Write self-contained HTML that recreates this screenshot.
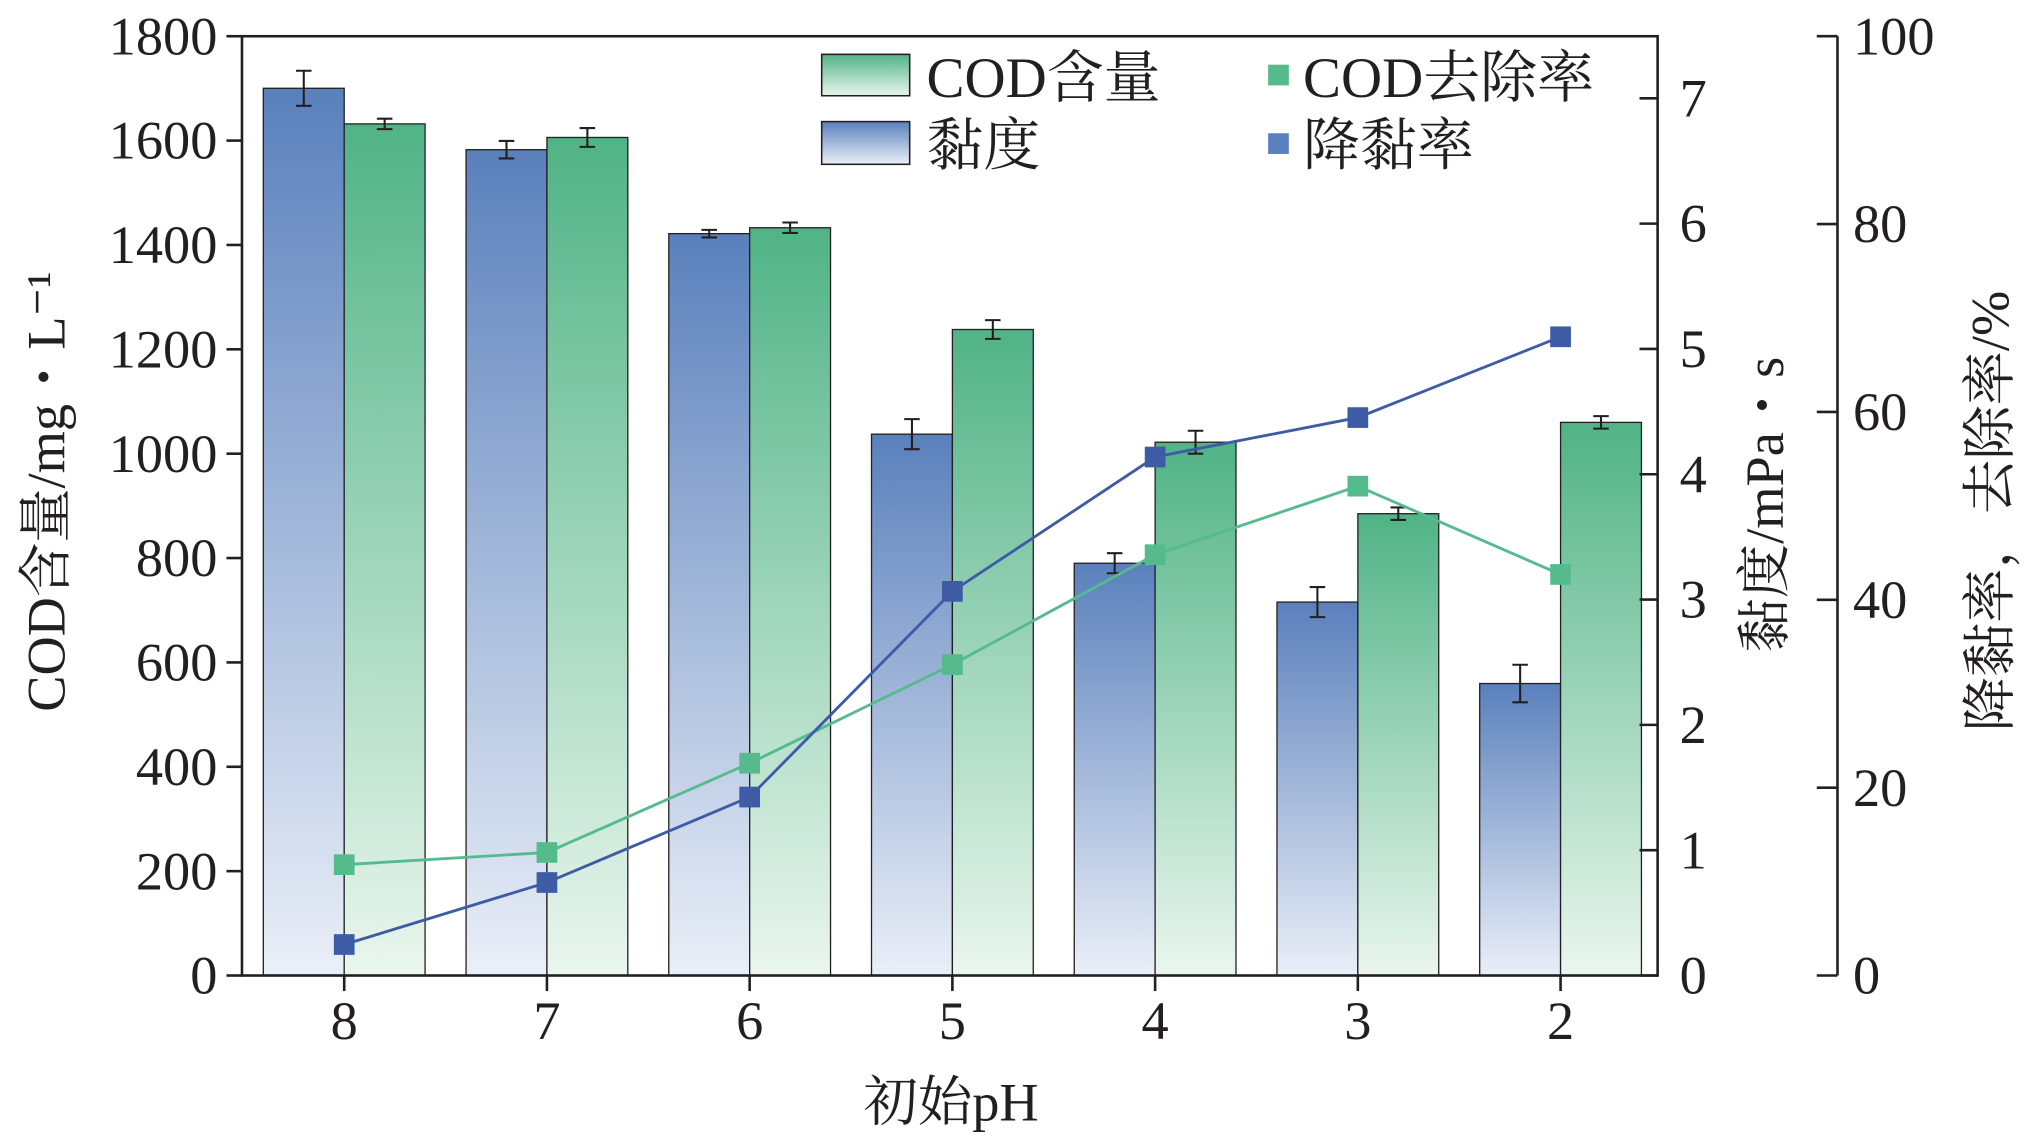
<!DOCTYPE html>
<html><head><meta charset="utf-8"><style>
html,body{margin:0;padding:0;background:#fff;}
svg{display:block;}
text{font-family:"Liberation Serif","Noto Serif CJK SC","Noto Sans CJK SC",serif;fill:#231f20;}
</style></head><body>
<svg id="chart" width="2029" height="1145" viewBox="0 0 1568 885" preserveAspectRatio="none" xmlns="http://www.w3.org/2000/svg">
<defs>
<linearGradient id="gb" x1="0" y1="0" x2="0" y2="1"><stop offset="0" stop-color="#5a80bc"/><stop offset="1" stop-color="#eaeff8"/></linearGradient>
<linearGradient id="gg" x1="0" y1="0" x2="0" y2="1"><stop offset="0" stop-color="#50b386"/><stop offset="1" stop-color="#eaf6ee"/></linearGradient>
</defs>
<g id="bars"></g><g id="lines"></g><g id="axes"></g>
</svg>
<script>
const categories=["8","7","6","5","4","3","2"];
const viscosity=[7.08,6.59,5.92,4.32,3.29,2.98,2.33];
const viscosityErr=[0.14,0.07,0.03,0.12,0.08,0.12,0.15];
const cod=[1698-66,1606,1433,1238,1022,885,1060];
const codErr=[10,18,10,18,22,12,12];
const removalRate=[11.8,13.1,22.6,33.1,44.8,52.1,42.7];
const reductionRate=[3.3,9.9,19.0,40.9,55.2,59.4,68.0];
const leftTicks=[0,200,400,600,800,1000,1200,1400,1600,1800];
const midTicks=[0,1,2,3,4,5,6,7];
const rightTicks=[0,20,40,60,80,100];

const NS="http://www.w3.org/2000/svg";
const L=187,R=1281,T=28,B=754;
const xC=i=>266+i*(1206-266)/6;
const yL=v=>B-v*(B-T)/1800;
const yM=v=>B-v*96.86;
const yR=v=>B-v*(B-T)/100;
function mk(tag,attrs,parent,txt){const e=document.createElementNS(NS,tag);for(const k in attrs)e.setAttribute(k,attrs[k]);if(txt!==undefined)e.textContent=txt;parent.appendChild(e);return e;}
const gBars=document.getElementById('bars'),gLines=document.getElementById('lines'),gAx=document.getElementById('axes');
const bw=62.5;
function errbar(x,yt,yb,p){mk('path',{d:`M${x} ${yt}V${yb}M${x-6} ${yt}H${x+6}M${x-6} ${yb}H${x+6}`,stroke:'#231f20','stroke-width':1.6,fill:'none'},p);}
categories.forEach((c,i)=>{
 const x=xC(i);
 let r=mk('rect',{x:x-bw,y:yM(viscosity[i]),width:bw,height:B-yM(viscosity[i]),fill:'url(#gb)',stroke:'#231f20','stroke-width':1},gBars);
 
 
 errbar(x-bw/2,yM(viscosity[i]+viscosityErr[i]),yM(viscosity[i]-viscosityErr[i]),gBars);
 let g=mk('rect',{x:x,y:yL(cod[i]),width:bw,height:B-yL(cod[i]),fill:'url(#gg)',stroke:'#231f20','stroke-width':1},gBars);
 
 
 errbar(x+bw/2,yL(cod[i]+codErr[i]),yL(cod[i]-codErr[i]),gBars);
});
function series(vals,color,name){
 const pl=mk('polyline',{points:vals.map((v,i)=>xC(i)+','+yR(v)).join(' '),fill:'none',stroke:color,'stroke-width':2.2},gLines);
 
 
 vals.forEach((v,i)=>{const m=mk('rect',{x:xC(i)-8,y:yR(v)-8,width:16,height:16,fill:color},gLines);
 
 });
}
series(removalRate,'#55bb8c','removal-rate');
series(reductionRate,'#3e5ba6','reduction-rate');
// axes
const ax='#231f20';
mk('rect',{x:L,y:T,width:R-L,height:B-T,fill:'none',stroke:ax,'stroke-width':2},gAx);
leftTicks.forEach(v=>{mk('line',{x1:L,x2:L-12,y1:yL(v),y2:yL(v),stroke:ax,'stroke-width':2},gAx);
 mk('text',{x:168,y:yL(v)+14,'text-anchor':'end','font-size':42},gAx,v);});
midTicks.forEach(v=>{mk('line',{x1:R,x2:R-14,y1:yM(v),y2:yM(v),stroke:ax,'stroke-width':2},gAx);
 mk('text',{x:1298,y:yM(v)+14,'font-size':42},gAx,v);});
mk('line',{x1:1420,x2:1420,y1:T,y2:B,stroke:ax,'stroke-width':2},gAx);
rightTicks.forEach(v=>{mk('line',{x1:1420,x2:1404,y1:yR(v),y2:yR(v),stroke:ax,'stroke-width':2},gAx);
 mk('text',{x:1432,y:yR(v)+14,'font-size':42},gAx,v);});
categories.forEach((c,i)=>{mk('line',{x1:xC(i),x2:xC(i),y1:B,y2:B+12,stroke:ax,'stroke-width':2},gAx);
 mk('text',{x:xC(i),y:803,'text-anchor':'middle','font-size':42},gAx,c);});
mk('text',{x:735,y:866,'text-anchor':'middle','font-size':42},gAx,'初始pH');
mk('text',{transform:'translate(50,380) rotate(-90)','text-anchor':'middle','font-size':42},gAx,'COD含量/mg・L⁻¹');
mk('text',{transform:'translate(1378,390) rotate(-90)','text-anchor':'middle','font-size':42},gAx,'黏度/mPa・s');
mk('text',{transform:'translate(1552,395) rotate(-90)','text-anchor':'middle','font-size':42},gAx,'降黏率，去除率/%');
// legend
mk('rect',{x:635,y:42,width:68,height:32,fill:'url(#gg)',stroke:ax,'stroke-width':1.2},gAx);
mk('text',{x:716,y:75,'font-size':44},gAx,'COD含量');
mk('rect',{x:635,y:94,width:68,height:33,fill:'url(#gb)',stroke:ax,'stroke-width':1.2},gAx);
mk('text',{x:716,y:127,'font-size':44},gAx,'黏度');
mk('rect',{x:980,y:50,width:16,height:16,fill:'#55bb8c'},gAx);
mk('text',{x:1007,y:75,'font-size':44},gAx,'COD去除率');
mk('rect',{x:980,y:103,width:16,height:16,fill:'#5b80bf'},gAx);
mk('text',{x:1007,y:127,'font-size':44},gAx,'降黏率');
</script>
</body></html>
